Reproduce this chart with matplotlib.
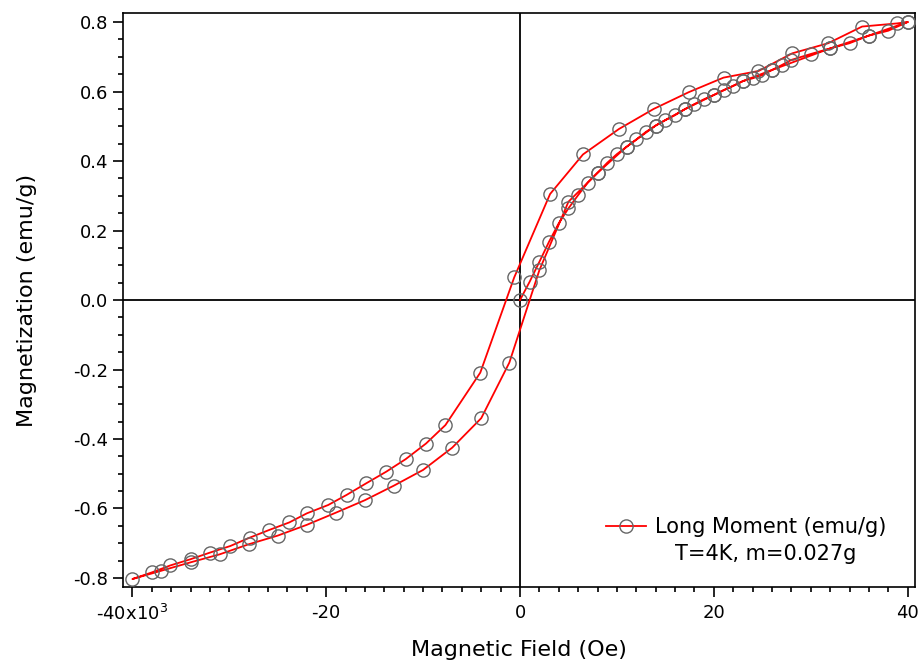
import numpy as np
import matplotlib
matplotlib.use('Agg')
import matplotlib.pyplot as plt
from matplotlib.ticker import MultipleLocator, FixedLocator

plt.rcParams['axes.unicode_minus'] = False
plt.rcParams['font.family'] = 'DejaVu Sans'

# virgin curve 0 -> +40 kOe
virgin_H = [0, 1000, 2000, 3000, 4000, 5000, 6000, 7000, 8000, 9000, 10000,
            11000, 12000, 13000, 14000, 15000, 16000, 17000, 18000, 19000, 20000,
            21000, 22000, 23000, 24000, 25000, 26000, 27000, 28000,
            30000, 32000, 34000, 36000, 38000, 40000]
virgin_M = [0.000, 0.053, 0.110, 0.168, 0.221, 0.264, 0.302, 0.338, 0.366, 0.395, 0.420,
            0.441, 0.462, 0.484, 0.502, 0.518, 0.532, 0.549, 0.564, 0.578, 0.590,
            0.604, 0.616, 0.630, 0.638, 0.647, 0.662, 0.676, 0.691,
            0.708, 0.724, 0.739, 0.761, 0.775, 0.800]

# descending branch +40 -> -40 kOe
down_H = [38900, 35300, 31800, 28100, 24600, 21000, 17400, 13800, 10200, 6500,
          3100, -600, -4100, -7700, -9700, -11800, -13800, -15900, -17900, -19800,
          -22000, -23800, -25900, -27900, -29900, -32000, -34000, -36100, -38000, -40000]
down_M = [0.796, 0.787, 0.739, 0.710, 0.659, 0.640, 0.598, 0.550, 0.492, 0.419,
          0.305, 0.065, -0.209, -0.360, -0.413, -0.458, -0.494, -0.528, -0.561, -0.590,
          -0.614, -0.640, -0.662, -0.684, -0.708, -0.727, -0.746, -0.764, -0.784, -0.803]

# ascending branch -40 -> +40 kOe
up_H = [-37000, -34000, -31000, -28000, -25000, -22000, -19000, -16000, -13000,
        -10000, -7000, -4000, -1100, 2000, 5000, 8000, 11000, 14000, 17000, 20000,
        23000, 26000, 32000, 36000, 40000]
up_M = [-0.779, -0.755, -0.732, -0.703, -0.678, -0.647, -0.612, -0.576, -0.534,
        -0.489, -0.425, -0.340, -0.180, 0.086, 0.283, 0.366, 0.441, 0.502, 0.549, 0.590,
        0.630, 0.662, 0.724, 0.761, 0.800]

H = np.array(virgin_H + down_H + up_H)
M = np.array(virgin_M + down_M + up_M)

fig = plt.figure(figsize=(9.21, 6.63), dpi=100)
ax = fig.add_axes([0.1336, 0.1146, 0.8599, 0.8658])

# zero lines
ax.axhline(0, color='black', lw=1.3, zorder=1)
ax.axvline(0, color='black', lw=1.3, zorder=1)

ax.plot(H, M, color='red', lw=1.3, marker='o', ms=9.5, mfc='none',
        mec='#666666', mew=1.0, label='Long Moment (emu/g)', zorder=3)

ax.set_xlim(-40965, 40760)
ax.set_ylim(-0.826, 0.826)

ax.xaxis.set_major_locator(FixedLocator([-40000, -20000, 0, 20000, 40000]))
ax.set_xticklabels(['-40x10$^3$', '-20', '0', '20', '40'])
ax.xaxis.set_minor_locator(MultipleLocator(2000))
ax.yaxis.set_major_locator(MultipleLocator(0.2))
ax.yaxis.set_minor_locator(MultipleLocator(0.05))
ax.yaxis.set_major_formatter(plt.FormatStrFormatter('%.1f'))

ax.tick_params(which='major', direction='out', length=7, width=1.2, labelsize=13)
ax.tick_params(axis='x', which='major', pad=5)
ax.tick_params(which='minor', direction='out', length=3.5, width=1.2)
for s in ax.spines.values():
    s.set_linewidth(1.2)

ax.set_xlabel('Magnetic Field (Oe)', fontsize=16, labelpad=12)
ax.set_ylabel('Magnetization (emu/g)', fontsize=16, labelpad=26)

ax.legend(loc='center left', bbox_to_anchor=(0.61, 0.1045), frameon=False,
          borderpad=0, borderaxespad=0, handlelength=1.92, handletextpad=0.43,
          fontsize=15)
ax.text(0.812, 0.0575, 'T=4K, m=0.027g', transform=ax.transAxes,
        ha='center', va='center', fontsize=15)

fig.savefig('out.png', dpi=100)
